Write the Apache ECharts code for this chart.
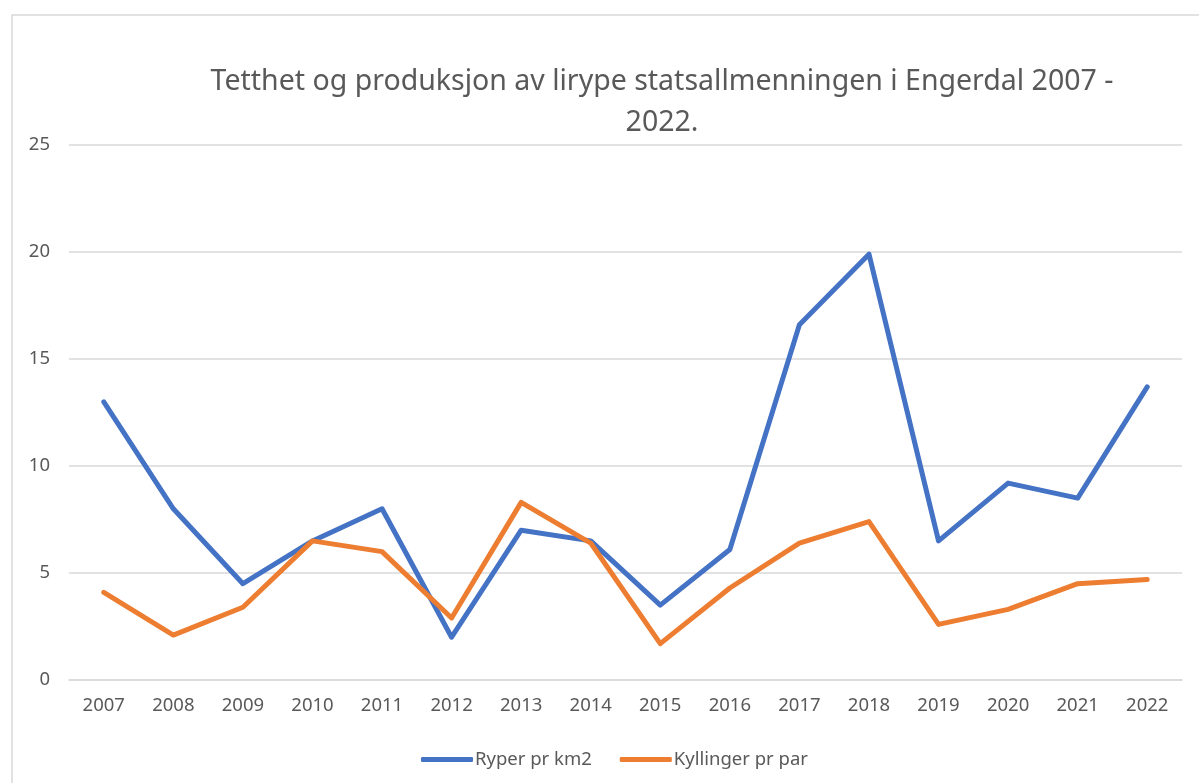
<!DOCTYPE html>
<html style="height: 100%">
<head>
    <meta charset="utf-8">
    <title>Tetthet og produksjon av lirype</title>
    <script src="https://cdn.jsdelivr.net/npm/echarts@6/dist/echarts.min.js"></script>
</head>
<body style="margin: 0; height: 100%; background: #fff">
    <div id="main" style="width: 1199px; height: 783px"></div>
    <script>
        const years = ['2007', '2008', '2009', '2010', '2011', '2012', '2013', '2014',
            '2015', '2016', '2017', '2018', '2019', '2020', '2021', '2022'];
        const ryper = [13.0, 8.0, 4.5, 6.5, 8.0, 2.0, 7.0, 6.5, 3.5, 6.1, 16.6, 19.9, 6.5, 9.2, 8.5, 13.7];
        const kyllinger = [4.1, 2.1, 3.4, 6.5, 6.0, 2.9, 8.3, 6.4, 1.7, 4.3, 6.4, 7.4, 2.6, 3.3, 4.5, 4.7];

        const font = 'Noto Sans';
        const grey = '#595959';
        const chart = echarts.init(document.getElementById('main'));

        chart.setOption({
            animation: false,
            textStyle: { fontFamily: font },
            title: {
                text: 'Tetthet og produksjon av lirype statsallmenningen i Engerdal 2007 -\n2022.',
                left: 657,
                top: 56,
                textAlign: 'center',
                textStyle: {
                    fontFamily: font,
                    fontSize: 28.5,
                    fontWeight: 'normal',
                    color: grey,
                    lineHeight: 41
                }
            },
            graphic: [{
                type: 'rect',
                shape: { x: 12, y: 15, width: 1300, height: 900 },
                style: { fill: 'none', stroke: '#d9d9d9', lineWidth: 1.5 },
                silent: true
            }],
            legend: {
                left: 416,
                top: 745,
                itemWidth: 52,
                itemHeight: 5,
                itemGap: 28,
                icon: 'roundRect',
                textStyle: { fontFamily: font, fontSize: 18.5, color: grey, padding: [0, 0, 0, -3] },
                data: ['Ryper pr km2', 'Kyllinger pr par']
            },
            grid: {
                left: 69,
                right: 17,
                top: 145,
                bottom: 103
            },
            xAxis: {
                type: 'category',
                data: years,
                boundaryGap: true,
                axisLine: { lineStyle: { color: '#d9d9d9', width: 1.5 } },
                axisTick: { show: false },
                axisLabel: { color: grey, fontSize: 18.5, margin: 16, fontFamily: font }
            },
            yAxis: {
                type: 'value',
                min: 0,
                max: 25,
                interval: 5,
                axisLine: { show: false },
                axisTick: { show: false },
                splitLine: { lineStyle: { color: '#d9d9d9', width: 1.5 } },
                axisLabel: { color: grey, fontSize: 18.5, margin: 19, fontFamily: font }
            },
            series: [{
                name: 'Ryper pr km2',
                type: 'line',
                data: ryper,
                symbol: 'none',
                color: '#4472C4',
                lineStyle: { width: 5, cap: 'round', join: 'round' }
            }, {
                name: 'Kyllinger pr par',
                type: 'line',
                data: kyllinger,
                symbol: 'none',
                color: '#ED7D31',
                lineStyle: { width: 5, cap: 'round', join: 'round' }
            }]
        });
    </script>
</body>
</html>
